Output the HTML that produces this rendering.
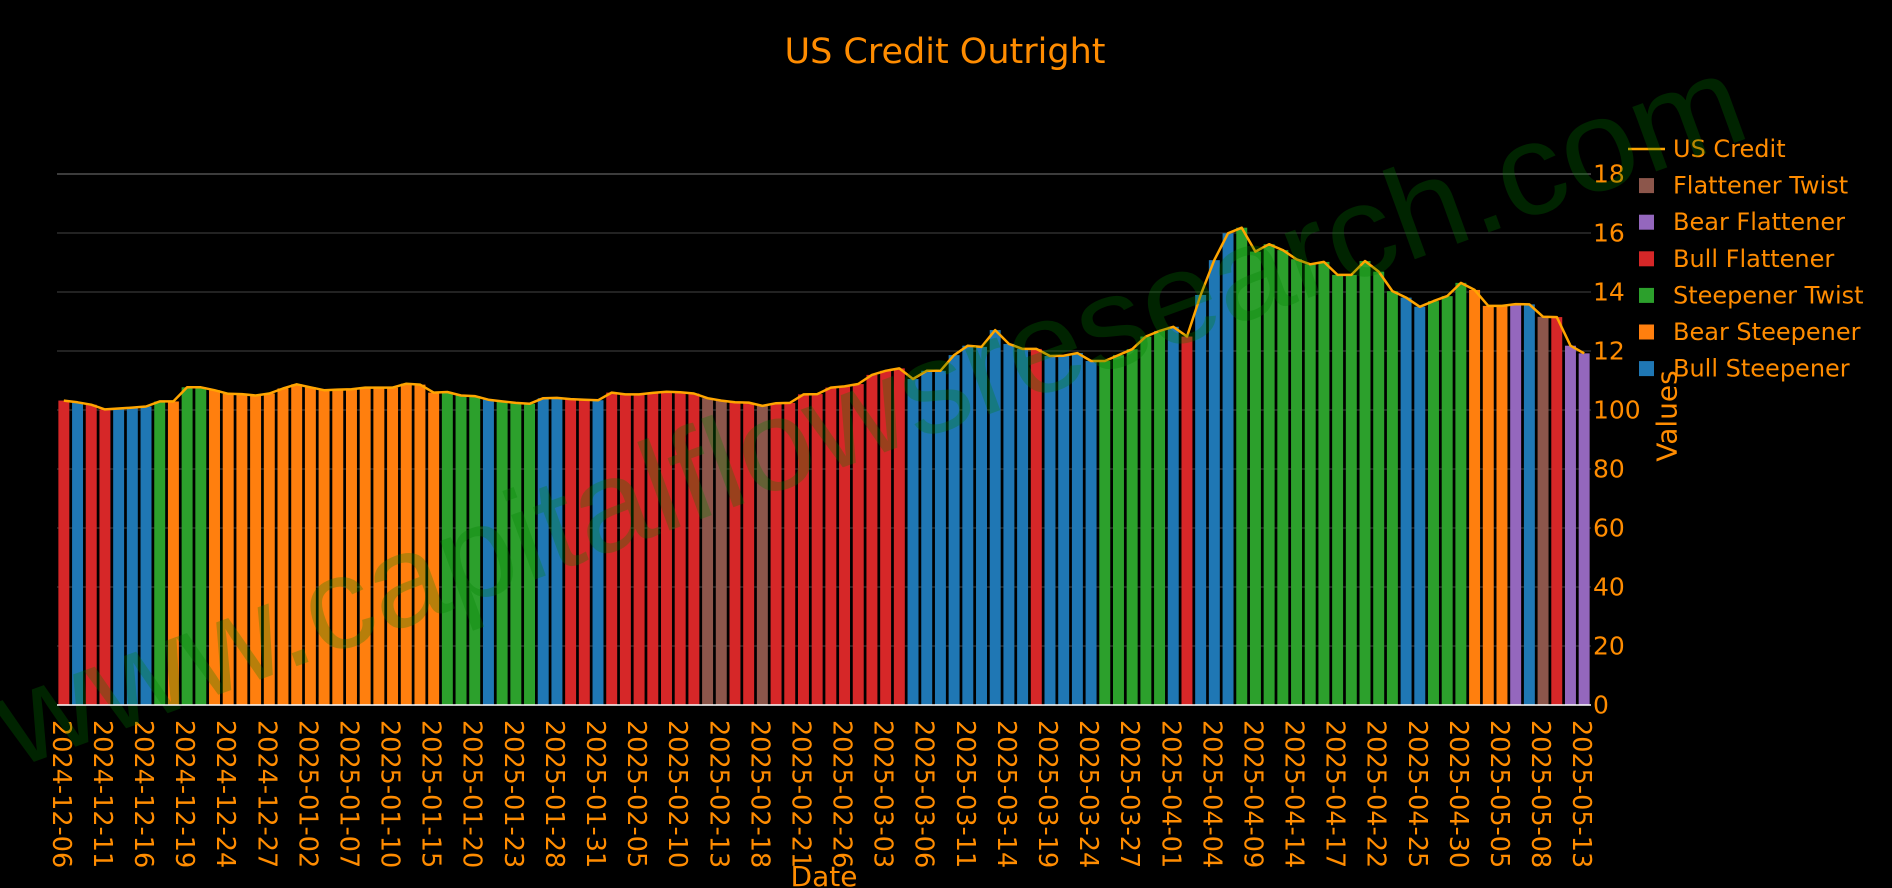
<!DOCTYPE html>
<html><head><meta charset="utf-8"><style>
html,body{margin:0;padding:0;background:#000;}
svg{display:block;}
text{font-family:"DejaVu Sans","Liberation Sans",sans-serif;fill:#ff8c00;}
</style></head><body>
<svg id="chart" width="1892" height="888" viewBox="0 0 1892 888" xmlns="http://www.w3.org/2000/svg">
<rect x="0" y="0" width="1892" height="888" fill="#000"/>
<text x="945" y="63" font-size="35" text-anchor="middle">US Credit Outright</text>
<g id="grid"></g>
<g id="bars"></g>
<g id="line"></g>
<g id="yticks"></g>
<g id="xticks"></g>
<text x="0" y="0" font-size="28" text-anchor="middle" dominant-baseline="central" transform="translate(1667,416) rotate(-90)">Values</text>
<text x="824" y="886" font-size="28" text-anchor="middle">Date</text>
<g id="legend"></g>
<text x="0" y="0" font-size="130" text-anchor="middle" dominant-baseline="central" textLength="1850" lengthAdjust="spacingAndGlyphs" transform="translate(869,410) rotate(-20)" style="fill:rgb(0,128,0);font-family:'Liberation Sans',sans-serif" opacity="0.28">www.capitalflowsresearch.com</text>
</svg>
<script>
const values = [103.2,102.6,101.8,100.2,100.5,100.8,101.2,102.9,102.9,107.7,
107.7,106.7,105.5,105.4,104.9,105.6,107.3,108.7,107.7,106.7,
106.9,107.0,107.6,107.6,107.6,108.9,108.6,105.9,106.1,104.9,
104.7,103.5,102.9,102.4,102.1,104.0,104.1,103.7,103.5,103.3,
105.9,105.3,105.3,105.8,106.2,106.0,105.6,104.0,103.2,102.6,
102.5,101.4,102.3,102.4,105.3,105.4,107.6,108.0,108.8,111.9,
113.3,114.1,110.5,113.3,113.3,118.6,121.8,121.4,127.1,122.4,
120.7,120.7,118.3,118.4,119.3,116.6,116.6,118.6,120.6,124.9,
126.8,128.2,124.9,139.0,150.8,159.9,161.8,153.7,156.2,154.2,
151.1,149.4,150.2,145.8,145.8,150.5,146.9,140.3,138.1,135.0,
136.9,138.6,143.1,140.7,135.3,135.3,135.9,135.8,131.6,131.5,
121.8,119.2];
const regimeCodes = "RBRRBBBGOGG"+"OOOOOOOOOOOOOOOOO"+"GGG"+"B"+"GGG"+"BB"+"RR"+"B"+"RRRRRRR"+"NN"+"RR"+"N"+"RRRRRRRRRR"+"BBBBBBBBB"+"R"+"BBBB"+"GGGGG"+"B"+"R"+"BBB"+"GGGGGGGGGGGG"+"BB"+"GGG"+"OOO"+"P"+"B"+"N"+"R"+"PP";
const tickLabels = ["2024-12-06","2024-12-11","2024-12-16","2024-12-19","2024-12-24","2024-12-27","2025-01-02","2025-01-07","2025-01-10","2025-01-15","2025-01-20","2025-01-23","2025-01-28","2025-01-31","2025-02-05","2025-02-10","2025-02-13","2025-02-18","2025-02-21","2025-02-26","2025-03-03","2025-03-06","2025-03-11","2025-03-14","2025-03-19","2025-03-24","2025-03-27","2025-04-01","2025-04-04","2025-04-09","2025-04-14","2025-04-17","2025-04-22","2025-04-25","2025-04-30","2025-05-05","2025-05-08","2025-05-13"];
const yTickValues = [0,20,40,60,80,100,120,140,160,180];
const yTickLabels = ["0","20","40","60","80","100","12","14","16","18"];
const legendNames = ["Flattener Twist","Bear Flattener","Bull Flattener","Steepener Twist","Bear Steepener","Bull Steepener"];
const legendCodes = ["N","P","R","G","O","B"];

const colors = {R:"#d62728",B:"#1f77b4",G:"#2ca02c",O:"#ff7f0e",P:"#9467bd",N:"#8c564b"};
const NS="http://www.w3.org/2000/svg";
const X0=57, X1=1591, Y0=705, PXPER=2.95;
const n=values.length, band=(X1-X0)/n;
const xc=i=>X0+band*(i+0.5);
const y=v=>Y0-v*PXPER;
function mk(tag,attrs,parent){const e=document.createElementNS(NS,tag);for(const k in attrs)e.setAttribute(k,attrs[k]);parent.appendChild(e);return e;}

const grid=document.getElementById('grid');
yTickValues.forEach((v,k)=>{
  if(v===0)return;
  const g=mk('line',{x1:X0,x2:X1,y1:y(v),y2:y(v),stroke:v===180?'#777':'#444','stroke-width':1},grid);
  
  
});
const bars=document.getElementById('bars');
values.forEach((v,i)=>{
  const c=regimeCodes[i]||'B';
  const r=mk('rect',{x:xc(i)-band*0.4,y:y(v),width:band*0.8,height:Y0-y(v),fill:colors[c]},bars);
  
  
});
const zl=mk('line',{x1:X0,x2:X1,y1:Y0,y2:Y0,stroke:'#fff','stroke-width':1.5},grid.parentNode);


const lg=document.getElementById('line');
const pl=mk('polyline',{points:values.map((v,i)=>xc(i).toFixed(1)+','+y(v).toFixed(1)).join(' '),fill:'none',stroke:'#ffa500','stroke-width':2.5,'stroke-linejoin':'round'},lg);



const yt=document.getElementById('yticks');
yTickValues.forEach((v,k)=>{
  const t=mk('text',{x:1593,y:y(v),'font-size':25,'dominant-baseline':'central'},yt);
  t.textContent=yTickLabels[k];
  
  
});
const xt=document.getElementById('xticks');
tickLabels.forEach((s,k)=>{
  const px=xc(k*3)-3;
  const t=mk('text',{x:0,y:0,'font-size':25.5,'dominant-baseline':'central',transform:'translate('+px.toFixed(1)+',720) rotate(90)'},xt);
  t.textContent=s;
  
  
});
const lgd=document.getElementById('legend');
const li=mk('line',{x1:1628,x2:1665,y1:149,y2:149,stroke:'#ffa500','stroke-width':2.5},lgd);


const lt=mk('text',{x:1673,y:149,'font-size':24,'dominant-baseline':'central'},lgd);
lt.textContent='US Credit';


legendNames.forEach((nm,k)=>{
  const cy=149+36.6*(k+1);
  const r=mk('rect',{x:1639,y:cy-7.5,width:15,height:15,fill:colors[legendCodes[k]]},lgd);
  
  
  const t=mk('text',{x:1673,y:cy,'font-size':24,'dominant-baseline':'central'},lgd);
  t.textContent=nm;
  
  
});
</script>
</body></html>
